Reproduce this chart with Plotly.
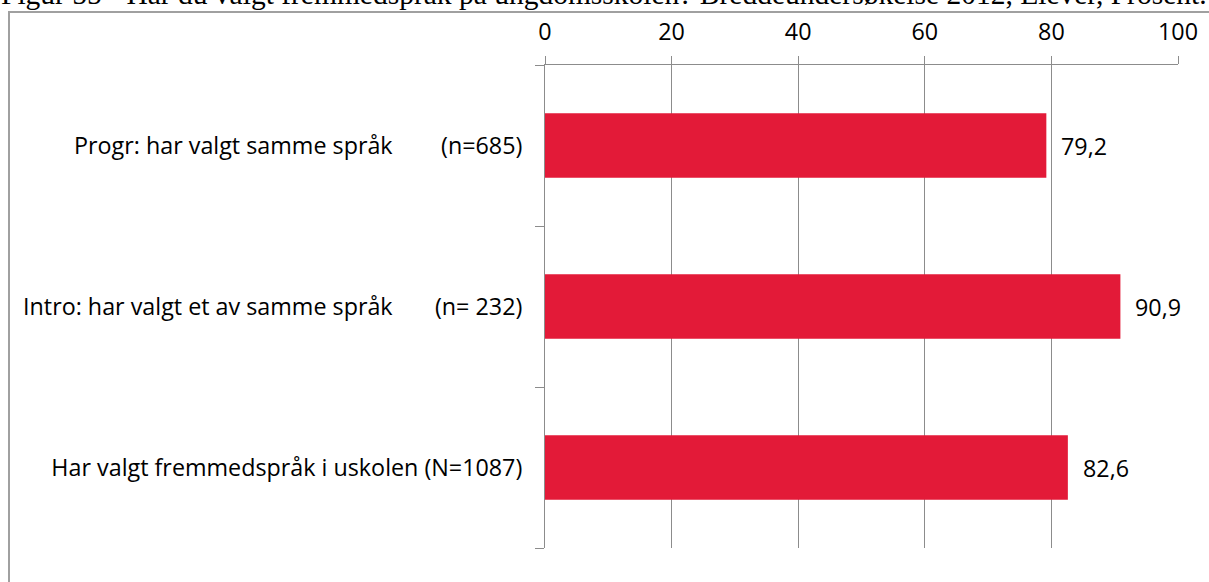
import plotly.graph_objects as go

# Survey answers, shown top to bottom
categories = [
    "Progr: har valgt samme språk",
    "Intro: har valgt et av samme språk",
    "Har valgt fremmedspråk i uskolen",
]
sample_sizes = ["(n=685)", "(n= 232)", "(N=1087)"]
label_gaps = [7, 6, 0]
percent = [79.2, 90.9, 82.6]
x_ticks = [0, 20, 40, 60, 80, 100]

title_text = ("Figur 55 - Har du valgt fremmedspråk på ungdomsskolen? "
              "Breddeundersøkelse 2012, Elever, Prosent.")

W, H = 1209, 582
L, R, T, B = 545, 1178, 65, 548   # plot area in pixels
pw, ph = R - L, B - T


def px_x(px):
    return (px - L) / pw


def px_y(py):
    return (B - py) / ph


tick_text = [c + "\u00a0" * g + " " + n
             for c, n, g in zip(categories, sample_sizes, label_gaps)]

BAR = "#E31A38"
GRID = "#8C8C8C"
FONT = "Open Sans"
FS = 23.3

fig = go.Figure(go.Bar(
    x=percent,
    y=categories,
    orientation="h",
    marker=dict(color=BAR, line=dict(width=0)),
    width=0.4,
    hoverinfo="x+y",
))

annotations = [
    dict(x=v, y=c, xref="x", yref="y", text=f"{v:.1f}".replace(".", ","),
         showarrow=False, xanchor="left", yanchor="middle", xshift=13,
         font=dict(family=FONT, size=FS, color="#000000"))
    for v, c in zip(percent, categories)
]
annotations.append(dict(
    x=px_x(-1), y=px_y(12), xref="paper", yref="paper", text=title_text,
    showarrow=False, xanchor="left", yanchor="bottom",
    font=dict(family="Liberation Serif", size=29.5, color="#000000"),
))

shapes = [
    # outer chart frame
    dict(type="rect", xref="paper", yref="paper",
         x0=px_x(9), x1=px_x(W + 20), y0=px_y(H + 20), y1=px_y(12),
         line=dict(color="#A0A0A0", width=2), layer="below"),
]

fig.update_layout(
    width=W, height=H,
    margin=dict(l=L, r=W - R, t=T, b=H - B, pad=0),
    paper_bgcolor="white", plot_bgcolor="white",
    showlegend=False,
    annotations=annotations,
    shapes=shapes,
    xaxis=dict(
        side="top", range=[0, 100], tickvals=x_ticks,
        ticktext=[str(t) for t in x_ticks],
        showgrid=True, gridcolor=GRID, gridwidth=1,
        zeroline=False, showline=True, linecolor=GRID, linewidth=1,
        ticks="outside", ticklen=8, tickcolor=GRID, tickwidth=1,
        ticklabelstandoff=7,
        tickfont=dict(family=FONT, size=FS, color="#000000"),
        fixedrange=True,
    ),
    yaxis=dict(
        categoryorder="array", categoryarray=categories,
        autorange="reversed",
        tickvals=categories, ticktext=tick_text,
        showgrid=False, zeroline=False,
        showline=True, linecolor=GRID, linewidth=1,
        ticks="outside", ticklen=9, tickcolor=GRID, tickwidth=1,
        tickson="boundaries",
        ticklabelstandoff=17,
        tickfont=dict(family=FONT, size=FS, color="#000000"),
        fixedrange=True,
    ),
    bargap=0.6,
)

fig.write_html("out.html")
